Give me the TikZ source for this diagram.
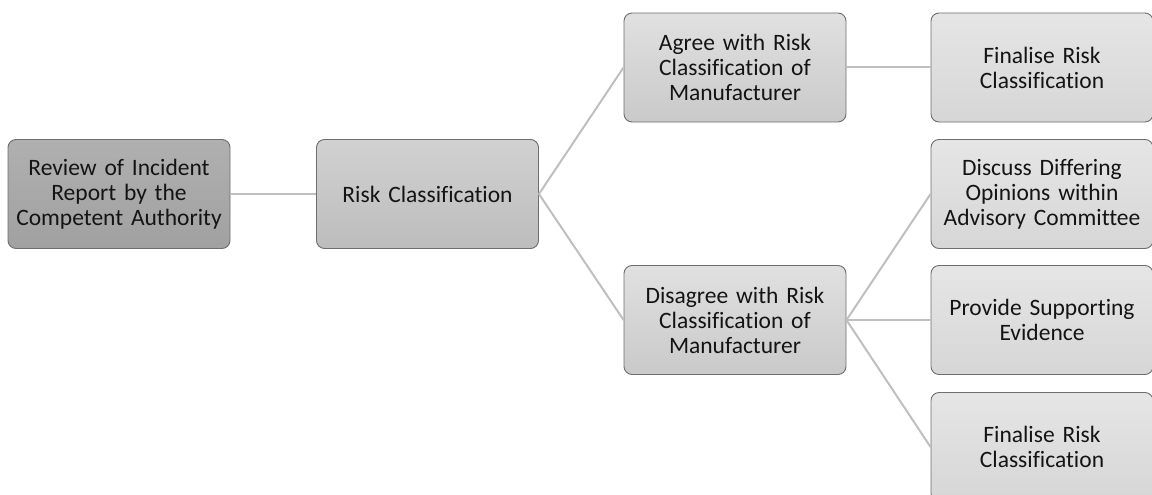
\documentclass[tikz,border=0pt]{standalone}
\usepackage{fontspec}
\setmainfont{Carlito}[Ligatures=NoCommon]
\definecolor{lineg}{HTML}{BFBFBF}
\definecolor{edgeg}{HTML}{6E6E6E}
\begin{document}
\begin{tikzpicture}[x=1pt,y=-1pt,
  box/.style={draw=edgeg, line width=0.9pt, rounded corners=8pt,
    minimum width=220pt, minimum height=109pt, inner sep=3pt,
    align=center, text width=216pt, font=\fontsize{23.5}{25}\selectfont,
    text=black!92},
  lvlA/.style={box, top color=black!31, bottom color=black!37},
  lvlB/.style={box, top color=black!18, bottom color=black!26},
  lvlC/.style={box, top color=black!12, bottom color=black!21},
  lvlD/.style={box, top color=black!10, bottom color=black!16},
  link/.style={draw=lineg, line width=2pt}]
\useasboundingbox (0,0) rectangle (1152,495);

\node[lvlA] (review)   at (119,194)  {Review of Incident\\Report by the\\Competent Authority};
\node[lvlB] (risk)     at (427.5,194) {Risk Classification};
\node[lvlC] (agree)    at (735,67.5) {Agree with Risk\\Classification of\\Manufacturer};
\node[lvlC] (disagree) at (735,320)  {Disagree with Risk\\Classification of\\Manufacturer};
\node[lvlD] (final1)   at (1042,67.5) {Finalise Risk\\Classification};
\node[lvlD] (discuss)  at (1042,194) {Discuss Differing\\Opinions within\\Advisory Committee};
\node[lvlD] (provide)  at (1042,320) {Provide Supporting\\Evidence};
\node[lvlD] (final2)   at (1042,447) {Finalise Risk\\Classification};

\begin{scope}[on background layer/.try]
\draw[link] (review.east) -- (risk.west);
\draw[link] (risk.east) -- (agree.west);
\draw[link] (risk.east) -- (disagree.west);
\draw[link] (agree.east) -- (final1.west);
\draw[link] (disagree.east) -- (discuss.west);
\draw[link] (disagree.east) -- (provide.west);
\draw[link] (disagree.east) -- (final2.west);
\end{scope}
\end{tikzpicture}
\end{document}
